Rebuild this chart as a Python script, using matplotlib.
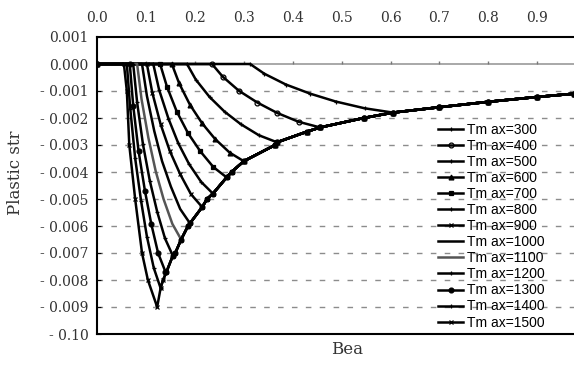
import numpy as np
import matplotlib
matplotlib.use("Agg")
from matplotlib import pyplot as plt

# Tmax values for each curve
tmax = [300, 400, 500, 600, 700, 800, 900, 1000, 1100, 1200, 1300, 1400, 1500]

# descending branch of each curve (from onset on the zero line down to its minimum)
desc_x = [
    [0.313, 0.342, 0.386, 0.436, 0.488, 0.547, 0.605],
    [0.235, 0.257, 0.290, 0.328, 0.368, 0.412, 0.456],
    [0.184, 0.202, 0.230, 0.261, 0.294, 0.331, 0.368],
    [0.153, 0.168, 0.190, 0.215, 0.241, 0.271, 0.300],
    [0.129, 0.143, 0.163, 0.186, 0.211, 0.238, 0.265],
    [0.115, 0.127, 0.146, 0.166, 0.188, 0.213, 0.237],
    [0.102, 0.113, 0.130, 0.149, 0.170, 0.192, 0.215],
    [0.092, 0.102, 0.117, 0.133, 0.151, 0.170, 0.190],
    [0.082, 0.091, 0.105, 0.120, 0.136, 0.154, 0.172],
    [0.074, 0.082, 0.094, 0.108, 0.123, 0.139, 0.155],
    [0.067, 0.074, 0.085, 0.098, 0.111, 0.125, 0.140],
    [0.061, 0.068, 0.078, 0.090, 0.102, 0.116, 0.130],
    [0.055, 0.061, 0.066, 0.078, 0.092, 0.104, 0.123],
]
desc_y = [
    [0.0, -0.00036, -0.00076, -0.00110, -0.00139, -0.00164, -0.00180],
    [0.0, -0.00047, -0.00099, -0.00143, -0.00181, -0.00214, -0.00235],
    [0.0, -0.00058, -0.00122, -0.00177, -0.00223, -0.00264, -0.00290],
    [0.0, -0.00072, -0.00151, -0.00220, -0.00277, -0.00328, -0.00360],
    [0.0, -0.00084, -0.00176, -0.00256, -0.00323, -0.00382, -0.00420],
    [0.0, -0.00096, -0.00202, -0.00293, -0.00370, -0.00437, -0.00480],
    [0.0, -0.00106, -0.00223, -0.00323, -0.00408, -0.00482, -0.00530],
    [0.0, -0.00118, -0.00248, -0.00360, -0.00454, -0.00537, -0.00590],
    [0.0, -0.00130, -0.00273, -0.00397, -0.00500, -0.00592, -0.00650],
    [0.0, -0.00142, -0.00298, -0.00433, -0.00547, -0.00646, -0.00710],
    [0.0, -0.00154, -0.00323, -0.00470, -0.00593, -0.00701, -0.00770],
    [0.0, -0.00166, -0.00349, -0.00506, -0.00639, -0.00755, -0.00830],
    [0.0, -0.00100, -0.00300, -0.00500, -0.00700, -0.00800, -0.00900],
]

# common recovery curve that all curves follow after their minimum
env_x = np.array([0.123, 0.130, 0.135, 0.142, 0.155, 0.160, 0.172, 0.186, 0.190, 0.215,
                  0.225, 0.237, 0.265, 0.275, 0.300, 0.364, 0.368, 0.430, 0.456, 0.545,
                  0.605, 0.700, 0.800, 0.900, 0.975])
env_y = np.array([-0.0090, -0.0083, -0.0080, -0.0077, -0.0071, -0.0070, -0.0065, -0.0060,
                  -0.0059, -0.0053, -0.0050, -0.0048, -0.0042, -0.0040, -0.0036, -0.0030,
                  -0.0029, -0.0025, -0.00235, -0.0020, -0.0018, -0.0016, -0.0014,
                  -0.00122, -0.0011])

markers = ['+', 'o', '+', '^', 's', '+', 'x', '', '', '+', 'o', '+', 'x']
mfill = ['full', 'none'] + ['full'] * 11
colors = ['black'] * 8 + ['#555555'] + ['black'] * 4

xticks = np.arange(0.0, 0.95, 0.1)
yticks = [0.001, 0.0, -0.001, -0.002, -0.003, -0.004, -0.005, -0.006, -0.007, -0.008,
          -0.009, -0.010]
ytick_labels = ['0.001', '0.000', '- 0.001', '- 0.002', '- 0.003', '- 0.004', '- 0.005',
                '- 0.006', '- 0.007', '- 0.008', '- 0.009', '- 0.10']
grid_levels = yticks[2:-1]

fig = plt.figure(figsize=(5.74, 3.67), dpi=100)
ax = fig.add_axes([97 / 574, 33 / 367, 477 / 574, 297 / 367])

ax.hlines(grid_levels, 0, 0.975, colors='#8c8c8c', linestyles=(0, (4, 6)), lw=1, zorder=1)
ax.axhline(0, color='#999999', lw=1.2, zorder=1)
ax.vlines(xticks, 0, 0.00012, colors='#777777', lw=1, zorder=1)

for i, t in enumerate(tmax):
    xm = desc_x[i][-1]
    keep = env_x > xm + 1e-6
    xs = [0.0] + desc_x[i] + list(env_x[keep])
    ys = [0.0] + desc_y[i] + list(env_y[keep])
    ax.plot(xs, ys, color=colors[i], lw=1.8, marker=markers[i] or None, ms=3.5,
            mew=0.9, fillstyle=mfill[i], label='Tm ax=%d' % t, zorder=3)

ax.set_xlim(0, 0.975)
ax.set_ylim(-0.010, 0.001)

ax.xaxis.tick_top()
ax.set_xticks(xticks)
ax.set_xticklabels(['%.1f' % v for v in xticks])
ax.tick_params(axis='x', length=0, pad=9)
ax.set_yticks(yticks)
ax.set_yticklabels(ytick_labels)
ax.tick_params(axis='y', direction='in', length=3, pad=6)
for lab in ax.get_xticklabels() + ax.get_yticklabels():
    lab.set_family('DejaVu Serif')
    lab.set_fontsize(10)
    lab.set_color('#333333')

for s in ['top', 'bottom', 'left']:
    ax.spines[s].set_linewidth(1.5)
ax.spines['right'].set_visible(False)

leg = ax.legend(loc='upper left', bbox_to_anchor=(0.715, 0.712), frameon=False,
                prop={'family': 'Liberation Sans', 'size': 10}, handlelength=1.8,
                handletextpad=0.3, labelspacing=0.15, borderpad=0, borderaxespad=0)

fig.text(15 / 574, 1 - 173 / 367, 'Plastic str', rotation=90, ha='center', va='center',
         family='DejaVu Serif', fontsize=12, color='#333333')
fig.text(347 / 574, 1 - 350 / 367, 'Bea', ha='center', va='center',
         family='DejaVu Serif', fontsize=12, color='#333333')

fig.savefig('out.png', dpi=100)
